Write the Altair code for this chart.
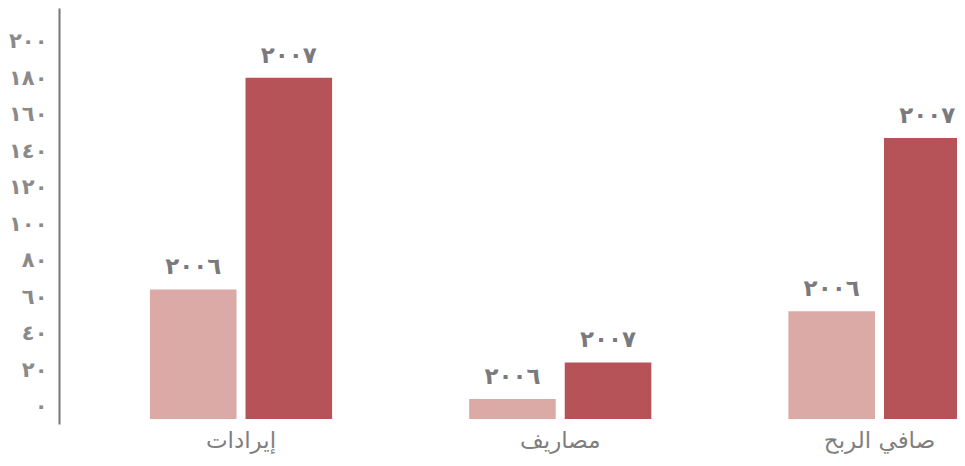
import altair as alt
import pandas as pd

categories = ["إيرادات", "مصاريف", "صافي الربح"]
years = ["2006", "2007"]
year_labels = ["٢٠٠٦", "٢٠٠٧"]
values_2006 = [71, 11, 59]
values_2007 = [187, 31, 154]
y_ticks = [0, 20, 40, 60, 80, 100, 120, 140, 160, 180, 200]
y_tick_labels = ["٠", "٢٠", "٤٠", "٦٠", "٨٠", "١٠٠", "١٢٠", "١٤٠", "١٦٠", "١٨٠", "٢٠٠"]
colors = ["#dbaaa6", "#b55359"]

rows = []
for i, cat in enumerate(categories):
    for yr, lab, vals in zip(years, year_labels, [values_2006, values_2007]):
        rows.append({"category": cat, "year": yr, "label": lab, "value": vals[i]})
df = pd.DataFrame(rows)

label_expr = " : ".join(
    f"datum.value == {v} ? '{l}'" for v, l in zip(y_ticks, y_tick_labels)
) + " : ''"

FONT = "DejaVu Sans"

x_enc = alt.X(
    "category:N",
    sort=categories,
    scale=alt.Scale(domain=categories, range=[22.4, 980.1], paddingInner=0, paddingOuter=0),
    axis=alt.Axis(
        title=None, domain=False, ticks=False, labelAngle=0, labelFont=FONT,
        labelFontSize=23, labelColor="#7f7f7f", labelPadding=5,
    ),
)
xoff = alt.XOffset(
    "year:N",
    scale=alt.Scale(domain=years, paddingInner=0.094, paddingOuter=0.717),
)
y_enc = alt.Y(
    "value:Q",
    scale=alt.Scale(domain=[-2.74, 225.2], nice=False, zero=False),
    axis=alt.Axis(
        title=None, grid=False, ticks=False, tickSize=0, values=y_ticks,
        labelExpr=label_expr, labelFont=FONT, labelFontSize=21, labelFontWeight="bold",
        labelColor="#8a8a8a", labelPadding=12, labelOffset=-12,
        domainColor="#777777", domainWidth=2,
    ),
)

base = alt.Chart(df)
bars = base.mark_bar(clip=True).encode(
    x=x_enc,
    xOffset=xoff,
    y=y_enc,
    y2=alt.datum(0),
    color=alt.Color("year:N", scale=alt.Scale(domain=years, range=colors), legend=None),
)
texts = base.mark_text(
    baseline="bottom", dy=-10, font=FONT, fontSize=23, fontWeight="bold", color="#7a7a7e"
).encode(
    x=alt.X("category:N", sort=categories),
    xOffset=xoff,
    y=alt.Y("value:Q"),
    text="label:N",
)

chart = (
    alt.layer(bars, texts)
    .properties(
        width=898, height=416,
        autosize=alt.AutoSizeParams(type="none"),
        padding={"left": 51, "top": 0, "right": 0, "bottom": 32},
    )
    .configure_view(stroke=None)
)

chart.save("out.html", embed_options={"renderer": "svg", "actions": False})
